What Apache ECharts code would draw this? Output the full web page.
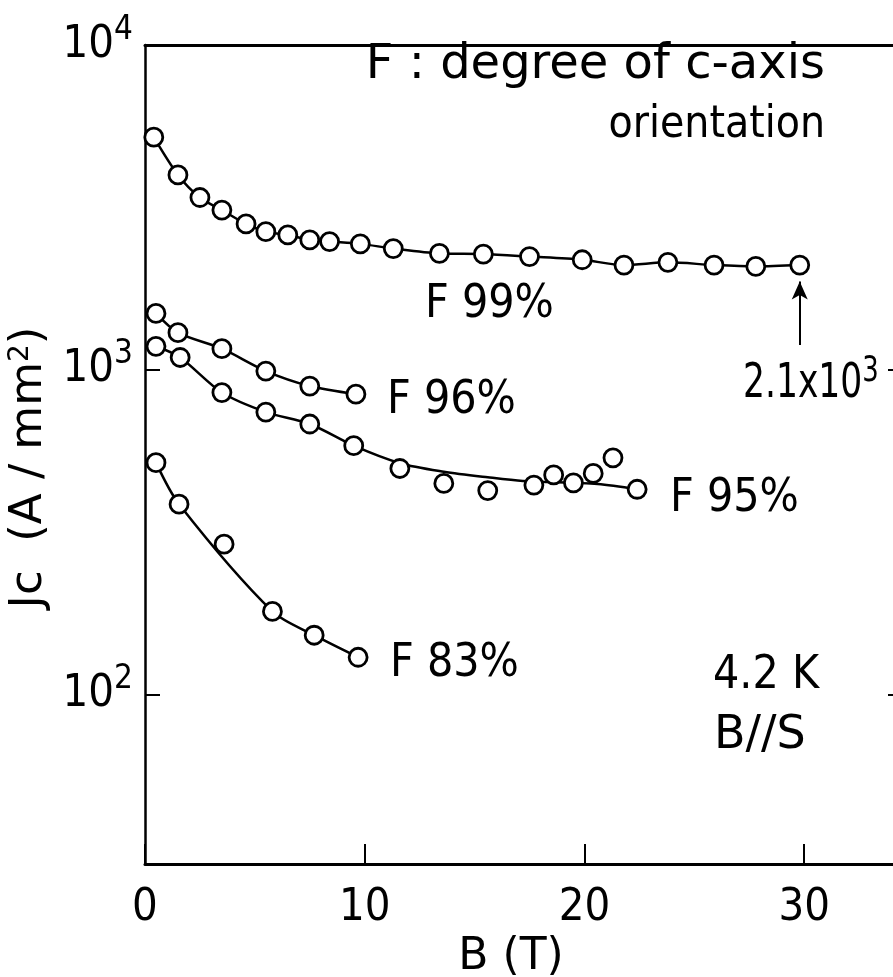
<!DOCTYPE html>
<html>
<head>
<meta charset="utf-8">
<script src="https://cdn.jsdelivr.net/npm/echarts@6/dist/echarts.min.js"></script>
<style>
  html, body { margin: 0; padding: 0; background: #fff; }
  #chart { width: 893px; height: 977px; }
</style>
</head>
<body>
<div id="chart"></div>
<script>
// measured points, B (T) and Jc (A/mm2)
const b99 = [0.4, 1.5, 2.5, 3.5, 4.6, 5.5, 6.5, 7.5, 8.4, 9.8, 11.3, 13.4, 15.4, 17.5, 19.9, 21.8, 23.8, 25.9, 27.8, 29.8]
const jc99 = [5200, 3980, 3390, 3100, 2810, 2660, 2600, 2510, 2480, 2440, 2360, 2280, 2270, 2230, 2180, 2100, 2140, 2100, 2080, 2100]

const b96 = [0.5, 1.5, 3.5, 5.5, 7.5, 9.6]
const jc96 = [1490, 1300, 1160, 990, 890, 840]

const b95 = [0.5, 1.6, 3.5, 5.5, 7.5, 9.5, 11.6, 13.6, 15.6, 17.7, 18.6, 19.5, 20.4, 21.3, 22.4]
const jc95 = [1180, 1090, 850, 740, 680, 583, 496, 446, 424, 441, 474, 448, 479, 535, 428]
// hand-drawn fit through the F 95% points
const b95Fit = [0.5, 1.6, 3.5, 5.5, 7.5, 9.5, 11.6, 13.6, 15.6, 17.2, 20.6, 22.4]
const jc95Fit = [1180, 1090, 850, 740, 680, 583, 515, 485, 466, 454, 444, 428]

const b83 = [0.5, 1.55, 3.6, 5.8, 7.7, 9.7]
const jc83 = [517, 385, 290, 180, 152, 130]
// the fit passes below the 3.6 T point
const b83Fit = [0.5, 1.55, 5.8, 7.7, 9.7]
const jc83Fit = [517, 385, 180, 152, 130]

const xTicks = [0, 10, 20, 30]
const yTicks = [100, 1000, 10000]

// arrow pointing at the last F 99% point
const arrowFrom = [29.8, 1190]
const arrowTo = [29.8, 1870]

const COND = "'DejaVu Sans Condensed', 'DejaVu Sans', sans-serif"
const SANS = "'DejaVu Sans', sans-serif"

const zip = (xs, ys) => xs.map((x, i) => [x, ys[i]])

const chart = echarts.init(document.getElementById('chart'))

function fitLine(xs, ys) {
  return {
    type: 'line',
    data: zip(xs, ys),
    smooth: 0.3,
    showSymbol: false,
    lineStyle: { color: '#000', width: 2.5 },
    z: 2,
    silent: true
  }
}

function points(xs, ys) {
  return {
    type: 'scatter',
    data: zip(xs, ys),
    symbol: 'circle',
    symbolSize: 18,
    itemStyle: { color: '#fff', borderColor: '#000', borderWidth: 2.8, opacity: 1 },
    z: 3
  }
}

const decadeLabel = v => {
  if (!yTicks.some(t => Math.abs(t - v) < 1e-6 * t)) return ''
  return '{b|10}{s|' + Math.round(Math.log10(v)) + '}'
}

const txt = (text, size, family, extra) =>
  Object.assign({ text: text, fontFamily: family, fontSize: size, fill: '#000' }, extra || {})

const option = {
  backgroundColor: '#fff',
  animation: false,
  grid: { left: 145, right: -10, top: 45, bottom: 113, outerBoundsMode: 'none' },
  xAxis: [
    {
      type: 'value', min: 0, max: 34.5, interval: 10,
      name: 'B (T)', nameLocation: 'middle', nameGap: 64,
      nameTextStyle: { fontFamily: SANS, fontSize: 44, color: '#000', padding: [0, 26, 0, 0] },
      axisLine: { lineStyle: { color: '#000', width: 3 } },
      axisTick: { inside: true, length: 20, lineStyle: { color: '#000', width: 2 } },
      axisLabel: {
        margin: 22, fontFamily: COND, fontSize: 45, color: '#000',
        formatter: v => xTicks.includes(v) ? String(v) : ''
      },
      splitLine: { show: false }
    },
    {
      type: 'value', min: 0, max: 34.5, position: 'top',
      axisLine: { show: true, onZero: false, lineStyle: { color: '#000', width: 3 } },
      axisTick: { show: false }, axisLabel: { show: false }, splitLine: { show: false }
    }
  ],
  yAxis: [
    {
      type: 'log', logBase: 10, min: 30, max: 10000,
      name: '{a|Jc  (A / mm}{s|2}{a|)}', nameLocation: 'middle', nameGap: 81, nameRotate: 90,
      nameTextStyle: {
        color: '#000',
        padding: [0, 26, 0, 0],
        rich: {
          a: { fontFamily: SANS, fontSize: 45, color: '#000' },
          s: { fontFamily: SANS, fontSize: 28, color: '#000', padding: [0, 0, 16, 0] }
        }
      },
      axisLine: { onZero: false, lineStyle: { color: '#000', width: 2.5 } },
      axisTick: { inside: true, length: 15, lineStyle: { color: '#000', width: 2 } },
      minorTick: { show: false },
      axisLabel: {
        margin: 12, color: '#000', formatter: decadeLabel,
        rich: {
          b: { fontFamily: COND, fontSize: 45, color: '#000' },
          s: { fontFamily: COND, fontSize: 33, color: '#000', padding: [0, 0, 30, 0] }
        }
      },
      splitLine: { show: false }
    },
    {
      type: 'log', logBase: 10, min: 30, max: 10000, position: 'right',
      axisLine: { show: true, onZero: false, lineStyle: { color: '#000', width: 2.5 } },
      axisTick: { show: true, inside: true, length: 15, lineStyle: { color: '#000', width: 2 } },
      axisLabel: { show: false }, splitLine: { show: false }
    }
  ],
  series: [
    Object.assign(fitLine(b99, jc99), {
      markLine: {
        silent: true,
        symbol: ['none', 'arrow'],
        symbolSize: [12, 18],
        label: { show: false },
        lineStyle: { color: '#000', width: 2, type: 'solid' },
        data: [[{ coord: arrowFrom }, { coord: arrowTo }]]
      }
    }),
    points(b99, jc99),
    fitLine(b96, jc96),
    points(b96, jc96),
    fitLine(b95Fit, jc95Fit),
    points(b95, jc95),
    fitLine(b83Fit, jc83Fit),
    points(b83, jc83)
  ],
  graphic: [
    { type: 'text', right: 68, top: 42, style: txt('F : degree of c-axis', 48, SANS) },
    { type: 'text', right: 68, top: 104, style: txt('orientation', 44, COND) },
    { type: 'text', left: 425, top: 282, style: txt('F 99%', 46, COND) },
    { type: 'text', left: 387, top: 378, style: txt('F 96%', 46, COND) },
    { type: 'text', left: 670, top: 476, style: txt('F 95%', 46, COND) },
    { type: 'text', left: 390, top: 641, style: txt('F 83%', 46, COND) },
    { type: 'text', left: 713, top: 653, style: txt('4.2 K', 46, COND) },
    { type: 'text', left: 714, top: 713, style: txt('B//S', 46, SANS) },
    {
      type: 'text', x: 743, y: 354, scaleX: 0.8,
      style: {
        text: '{b|2.1x10}{s|3}',
        rich: {
          b: { fontFamily: COND, fontSize: 48, fill: '#000' },
          s: { fontFamily: COND, fontSize: 36, fill: '#000', padding: [0, 0, 26, 0] }
        }
      }
    }
  ]
}

chart.setOption(option)
</script>
</body>
</html>
